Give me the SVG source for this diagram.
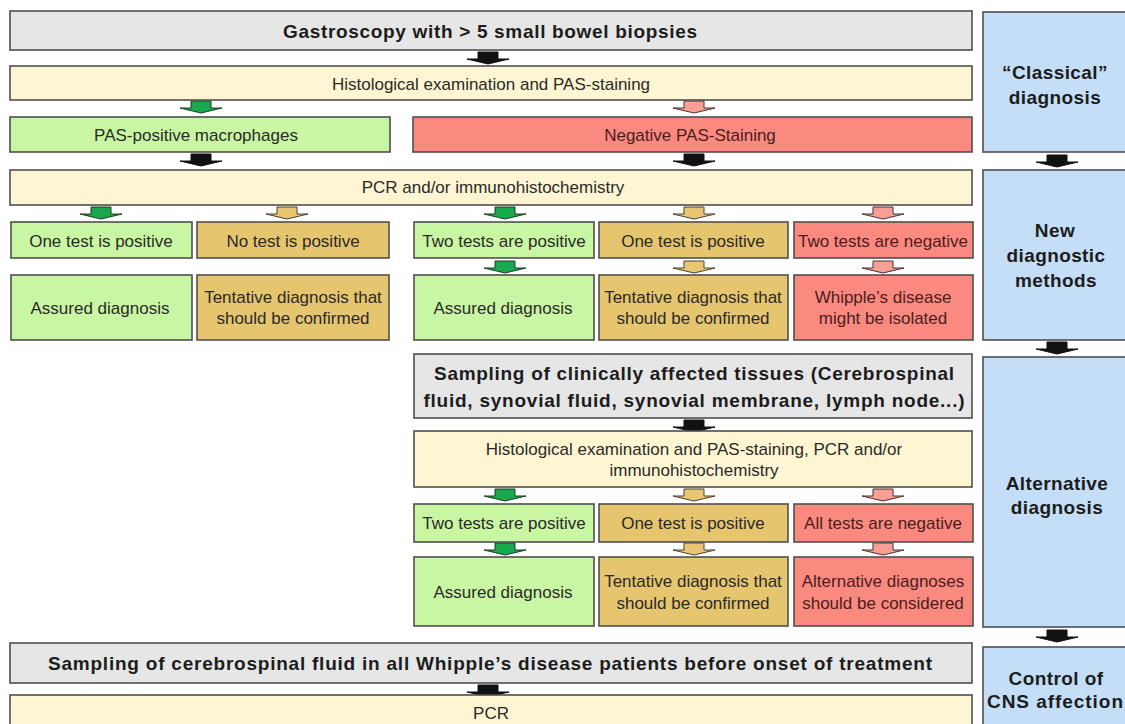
<svg xmlns="http://www.w3.org/2000/svg" xmlns:xlink="http://www.w3.org/1999/xlink" width="1125" height="724" viewBox="0 0 1125 724">
<style>
.b{stroke:#4f4f4f;stroke-width:1.6}
.gray{fill:#e6e6e6}.yel{fill:#fef6d2}.grn{fill:#c9f6a2}.tan{fill:#e6c56f}.red{fill:#fa8a80}.blue{fill:#c5def7}
text{font-family:"Liberation Sans",Arial,sans-serif;text-anchor:middle;dominant-baseline:central}
.t{font-size:17px;fill:#2a2a2a}
.tr{font-size:17px;fill:#4a1d1d}
.h{font-size:19px;font-weight:bold;fill:#1c1c1c}
.hr{font-size:19px;font-weight:bold;fill:#1c1c1c;letter-spacing:0.4px}
.ak{fill:#111;stroke:#111;stroke-width:1}
.ag{fill:#1aa84e;stroke:#1d3d22;stroke-width:1}
.at{fill:#e8c673;stroke:#4a4030;stroke-width:1}
.ap{fill:#f8a097;stroke:#4a3030;stroke-width:1}
</style>
<defs>
<path id="arr" d="M-10,0 h20 v7 h11 l-21,5 l-21,-5 h11 z"/>
</defs>
<rect width="1125" height="724" fill="#ffffff"/>

<g id="connectors">
<use xlink:href="#arr" x="488" y="52" class="ak"/>
<use xlink:href="#arr" x="201" y="101" class="ag"/>
<use xlink:href="#arr" x="694" y="101" class="ap"/>
<use xlink:href="#arr" x="201" y="154" class="ak"/>
<use xlink:href="#arr" x="694" y="154" class="ak"/>
<use xlink:href="#arr" x="101" y="207" class="ag"/>
<use xlink:href="#arr" x="287" y="207" class="at"/>
<use xlink:href="#arr" x="505" y="207" class="ag"/>
<use xlink:href="#arr" x="694" y="207" class="at"/>
<use xlink:href="#arr" x="883" y="207" class="ap"/>
<use xlink:href="#arr" x="505" y="261" class="ag"/>
<use xlink:href="#arr" x="694" y="261" class="at"/>
<use xlink:href="#arr" x="883" y="261" class="ap"/>
<use xlink:href="#arr" x="694" y="420" class="ak"/>
<use xlink:href="#arr" x="505" y="489" class="ag"/>
<use xlink:href="#arr" x="694" y="489" class="at"/>
<use xlink:href="#arr" x="883" y="489" class="ap"/>
<use xlink:href="#arr" x="505" y="543" class="ag"/>
<use xlink:href="#arr" x="694" y="543" class="at"/>
<use xlink:href="#arr" x="883" y="543" class="ap"/>
<use xlink:href="#arr" x="488" y="685" class="ak"/>
<use xlink:href="#arr" x="1057" y="155" class="ak"/>
<use xlink:href="#arr" x="1057" y="342" class="ak"/>
<use xlink:href="#arr" x="1057" y="630" class="ak"/>
</g>

<g id="n1"><rect x="10" y="11" width="962" height="39" class="b gray"/><text x="490" y="31" class="h" textLength="414" lengthAdjust="spacing">Gastroscopy with &gt; 5 small bowel biopsies</text></g>
<g id="n2"><rect x="10" y="66" width="962" height="34" class="b yel"/><text x="491" y="84" class="t">Histological examination and PAS-staining</text></g>
<g id="n3"><rect x="10" y="117" width="380" height="35" class="b grn"/><text x="196" y="135" class="t">PAS-positive macrophages</text></g>
<g id="n4"><rect x="413" y="117" width="559" height="35" class="b red"/><text x="690" y="135" class="tr">Negative PAS-Staining</text></g>
<g id="n5"><rect x="10" y="170" width="962" height="35" class="b yel"/><text x="493" y="187" class="t">PCR and/or immunohistochemistry</text></g>

<g id="n6"><rect x="11" y="222" width="181" height="36" class="b grn"/><text x="101" y="241" class="t">One test is positive</text></g>
<g id="n7"><rect x="197" y="222" width="192" height="36" class="b tan"/><text x="293" y="241" class="t">No test is positive</text></g>
<g id="n8"><rect x="414" y="222" width="180" height="36" class="b grn"/><text x="504" y="241" class="t">Two tests are positive</text></g>
<g id="n9"><rect x="599" y="222" width="189" height="36" class="b tan"/><text x="693" y="241" class="t">One test is positive</text></g>
<g id="n10"><rect x="794" y="222" width="179" height="36" class="b red"/><text x="883" y="241" class="tr">Two tests are negative</text></g>

<g id="n11"><rect x="11" y="275" width="181" height="65" class="b grn"/><text x="100" y="308" class="t">Assured diagnosis</text></g>
<g id="n12"><rect x="197" y="275" width="192" height="65" class="b tan"/><text x="293" y="297" class="t">Tentative diagnosis that</text><text x="293" y="318" class="t">should be confirmed</text></g>
<g id="n13"><rect x="414" y="275" width="180" height="65" class="b grn"/><text x="503" y="308" class="t">Assured diagnosis</text></g>
<g id="n14"><rect x="599" y="275" width="189" height="65" class="b tan"/><text x="693" y="297" class="t">Tentative diagnosis that</text><text x="693" y="318" class="t">should be confirmed</text></g>
<g id="n15"><rect x="794" y="275" width="179" height="65" class="b red"/><text x="883" y="297" class="tr">Whipple’s disease</text><text x="883" y="318" class="tr">might be isolated</text></g>

<g id="n16"><rect x="414" y="354" width="558" height="64" class="b gray"/><text x="694" y="373" class="h" textLength="520" lengthAdjust="spacing">Sampling of clinically affected tissues (Cerebrospinal</text><text x="694" y="400" class="h" textLength="541" lengthAdjust="spacing">fluid, synovial fluid, synovial membrane, lymph node...)</text></g>
<g id="n17"><rect x="414" y="431" width="558" height="56" class="b yel"/><text x="694" y="449" class="t">Histological examination and PAS-staining, PCR and/or</text><text x="694" y="470" class="t">immunohistochemistry</text></g>

<g id="n18"><rect x="414" y="504" width="180" height="38" class="b grn"/><text x="504" y="523" class="t">Two tests are positive</text></g>
<g id="n19"><rect x="599" y="504" width="189" height="38" class="b tan"/><text x="693" y="523" class="t">One test is positive</text></g>
<g id="n20"><rect x="794" y="504" width="179" height="38" class="b red"/><text x="883" y="523" class="tr">All tests are negative</text></g>

<g id="n21"><rect x="414" y="557" width="180" height="69" class="b grn"/><text x="503" y="592" class="t">Assured diagnosis</text></g>
<g id="n22"><rect x="599" y="557" width="189" height="69" class="b tan"/><text x="693" y="581" class="t">Tentative diagnosis that</text><text x="693" y="603" class="t">should be confirmed</text></g>
<g id="n23"><rect x="794" y="557" width="179" height="69" class="b red"/><text x="883" y="581" class="tr">Alternative diagnoses</text><text x="883" y="603" class="tr">should be considered</text></g>

<g id="n24"><rect x="10" y="643" width="962" height="40" class="b gray"/><text x="490" y="663" class="h" textLength="884" lengthAdjust="spacing">Sampling of  cerebrospinal fluid in all Whipple’s disease patients before onset of treatment</text></g>
<g id="n25"><rect x="10" y="695" width="962" height="40" class="b yel"/><text x="491" y="713" class="t">PCR</text></g>

<g id="r1"><rect x="983" y="12" width="160" height="140" class="b blue"/><text x="1055" y="72" class="hr">“Classical”</text><text x="1055" y="97" class="hr">diagnosis</text></g>
<g id="r2"><rect x="983" y="170" width="160" height="170" class="b blue"/><text x="1055" y="230" class="hr">New</text><text x="1056" y="255" class="hr">diagnostic</text><text x="1056" y="280" class="hr">methods</text></g>
<g id="r3"><rect x="983" y="357" width="160" height="270" class="b blue"/><text x="1057" y="483" class="hr">Alternative</text><text x="1057" y="507" class="hr">diagnosis</text></g>
<g id="r4"><rect x="983" y="647" width="160" height="90" class="b blue"/><text x="1056" y="678" class="hr">Control of</text><text x="1055" y="701" class="h" textLength="136" lengthAdjust="spacing">CNS affection</text></g>
</svg>
